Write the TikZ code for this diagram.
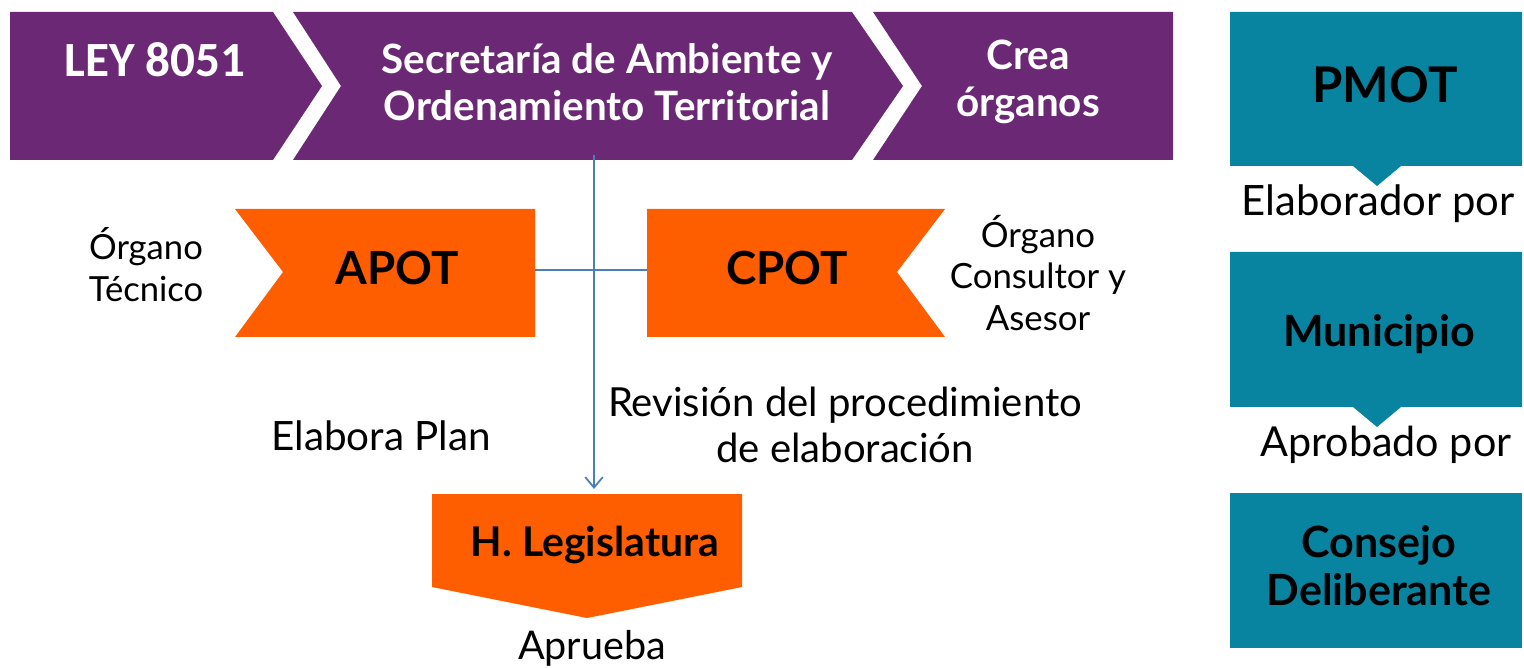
\documentclass[tikz,border=0pt]{standalone}
\usepackage{fontspec}
\setmainfont{Lato}
\newfontfamily\carlito{Carlito}
\usetikzlibrary{arrows.meta}
\definecolor{purp}{RGB}{107,40,116}
\definecolor{tealb}{RGB}{8,131,160}
\definecolor{orng}{RGB}{255,94,0}
\definecolor{lineblue}{RGB}{74,126,187}
\begin{document}
\begin{tikzpicture}[x=0.02cm,y=-0.02cm,
  purpfill/.style={fill=purp,draw=none},
  tealfill/.style={fill=tealb,draw=none},
  orngfill/.style={fill=orng,draw=none},
  whitebold/.style={text=white,font=\bfseries\fontsize{23}{26.6}\selectfont,align=center,inner sep=0pt},
  blackbold/.style 2 args={text=black,font=\bfseries\fontsize{#1}{#2}\selectfont,align=center,inner sep=0pt},
  lbl/.style 2 args={text=black,font=\fontsize{#1}{#2}\selectfont,align=center,inner sep=0pt},
  conn/.style={draw=lineblue,line width=1pt}]
\useasboundingbox (0,0) rectangle (1524,668);
% purple chevrons
\fill[purpfill] (10,12) -- (273,12) -- (322,86) -- (273,160) -- (10,160) -- cycle;
\fill[purpfill] (293,12) -- (852,12) -- (903,86) -- (852,160) -- (293,160) -- (341,86) -- cycle;
\fill[purpfill] (873,12) -- (1173,12) -- (1173,160) -- (873,160) -- (922,86) -- cycle;
\node[text=white,font=\carlito\bfseries\fontsize{28}{34}\selectfont,inner sep=0pt] (ley) at (155,60) {LEY 8051};
\node[whitebold] (sec) at (607,82) {Secretaría de Ambiente y\\Ordenamiento Territorial};
\node[whitebold] (crea) at (1028,82) {Crea\\órganos};
\coordinate (secb) at (594,155);
% teal column
\fill[tealfill] (1230,12) -- (1522,12) -- (1522,166) -- (1401,166) -- (1377,186) -- (1353,166) -- (1230,166) -- cycle;
\fill[tealfill] (1230,252) -- (1522,252) -- (1522,407) -- (1401,407) -- (1377,427) -- (1353,407) -- (1230,407) -- cycle;
\fill[tealfill] (1230,493) rectangle (1522,648);
\node[blackbold={28}{32}] (pmot) at (1385,85) {PMOT};
\node[lbl={23.8}{28}] (elab) at (1378,204) {Elaborador por};
\node[blackbold={24.5}{28}] (muni) at (1379,334) {Municipio};
\node[lbl={23.5}{28}] (aprob) at (1386,445) {Aprobado por};
\node[blackbold={24.5}{27.2}] (consejo) at (1379,566) {Consejo\\Deliberante};
% orange shapes
\fill[orngfill] (235,209) -- (535,209) -- (535,337) -- (235,337) -- (283,272) -- cycle;
\fill[orngfill] (647,209) -- (945,209) -- (897,272) -- (945,337) -- (647,337) -- cycle;
\node[blackbold={26}{30}] (apot) at (397,268) {APOT};
\node[blackbold={26}{30}] (cpot) at (787,268) {CPOT};
\coordinate (apote) at (535,270);
\coordinate (cpotw) at (647,270);
\node[lbl={19.7}{24}] (otec) at (146,265) {Órgano\\Técnico};
\node[lbl={19.8}{23.5}] (ocons) at (1038,273) {Órgano\\Consultor y\\Asesor};
% legislatura
\fill[orngfill] (432,494) -- (742,494) -- (742,587) -- (587,618) -- (432,587) -- cycle;
\node[blackbold={23.3}{27}] (leg) at (595,545) {H. Legislatura};
\coordinate (legt) at (594,489);
\node[lbl={22.5}{26}] (aprueba) at (592,648) {Aprueba};
\node[lbl={23}{26}] (eplan) at (381,436) {Elabora Plan};
\node[lbl={22.8}{26.5}] (rev) at (845,425) {Revisión del procedimiento\\de elaboración};
% connectors
\draw[conn] (apote) -- (cpotw);
\draw[conn,-{Straight Barb[length=6pt,width=10pt,line width=1pt]}] (secb) -- (legt);
\end{tikzpicture}
\end{document}
